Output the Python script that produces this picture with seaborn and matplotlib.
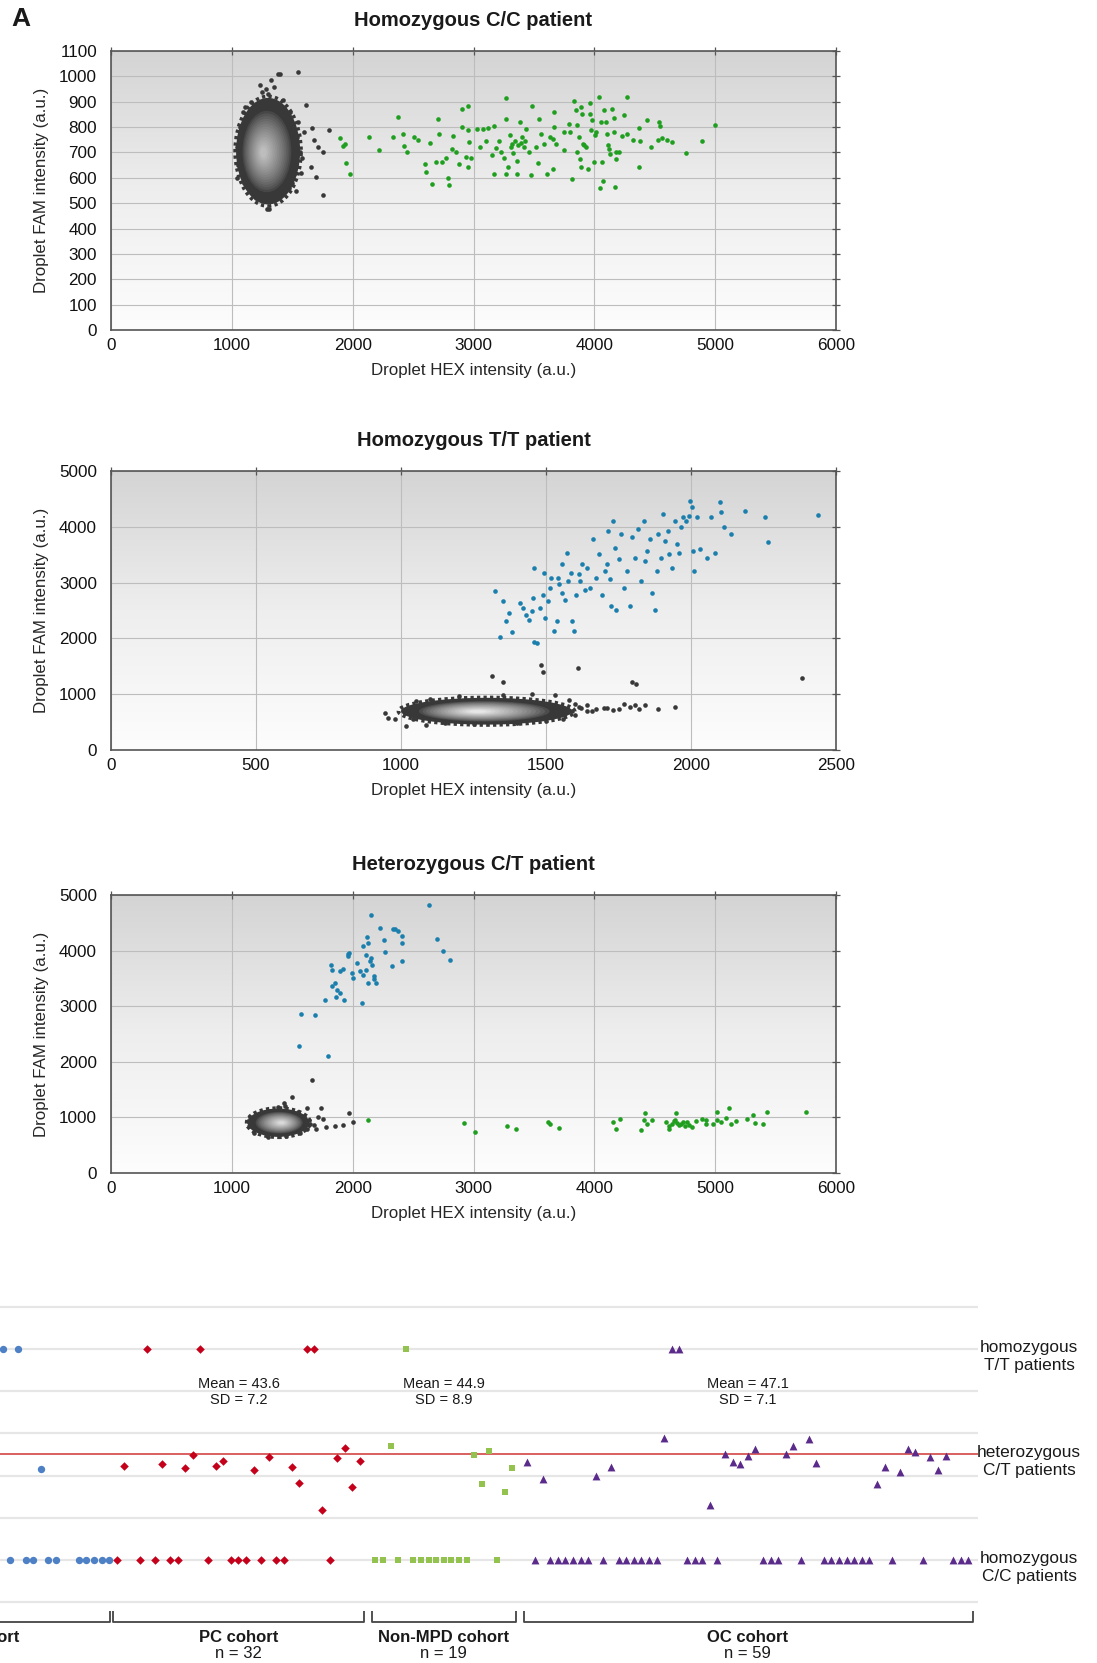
import numpy as np
import pandas as pd
import matplotlib
matplotlib.use("Agg")
import matplotlib.pyplot as plt
import matplotlib.transforms as mtransforms
from matplotlib.patches import Ellipse
from matplotlib.colors import LinearSegmentedColormap
import seaborn as sns

# ===================== DATA =====================
# --- Panel A1: homozygous C/C patient (HEX, FAM) ---
cc_hex_pos = np.array([
    (1895,757),(1919,724),(1933,733),(1948,658),(1977,617),(2137,760),(2218,709),(2331,760),(2378,841),
    (2419,773),(2427,727),(2448,703),(2506,762),(2544,749),(2637,736),(2602,654),(2610,621),(2654,577),
    (2703,830),(2712,773),(2689,664),(2741,662),(2770,680),(2791,601),(2797,571),(2820,713),(2834,766),
    (2855,703),(2878,654),(2901,872),(2907,799),(2951,885),(2936,683),(2951,643),(2965,740),(2957,789),
    (2980,680),(3029,793),(3081,793),(3116,798),(3168,805),(3168,614),(3183,717),(3212,746),(3270,915),
    (3270,830),(3256,680),(3285,643),(3270,614),(3314,720),(3328,696),(3357,667),(3357,614),(3387,819),
    (3392,736),(3416,720),(3438,793),(3459,700),(3474,610),(3488,885),(3517,720),(3532,658),(3546,832),
    (3561,773),(3584,733),(3605,614),(3633,760),(3320,735),(3345,745),(3372,730),(3400,760),(3430,745),
    (3300,770),(3230,700),(3150,690),(3100,745),(3050,720),
    (3664,860),(3656,754),(3669,800),(3683,734),(3656,635),(3747,710),(3752,780),(3793,811),(3801,780),
    (3812,595),(3835,902),(3848,866),(3856,807),(3856,701),(3876,760),(3890,880),(3895,853),(3884,675),
    (3890,641),(3903,734),(3917,731),(3931,721),(3950,635),(3962,896),(3964,853),(3975,787),(3983,827),
    (4000,661),(4005,767),(4014,780),(4036,919),(4055,820),(4061,661),(4050,558),(4074,589),(4077,866),
    (4096,820),(4104,771),(4116,731),(4124,714),(4132,694),(4143,873),(4165,836),(4165,780),(4171,565),
    (4179,675),(4179,700),(4207,700),(4226,763),(4242,847),(4267,917),(4270,774),(4317,750),(4372,641),
    (4372,796),(4380,747),(4435,827),(4468,721),(4537,820),(4545,803),(4529,750),(4564,758),(4600,750),
    (4639,743),(4758,697),(4895,745),(4997,807)])
cc_neg_outliers = np.array([
    (1549,1016),(1613,887),(1666,798),(1802,789),(1680,749),(1715,720),(1753,700),(1753,531),(1700,605),
    (1657,641),(1584,680),(1532,548),(1381,1011),(1400,1011),(1323,984),(1235,964),(1280,950),(1250,940),
    (1110,880),(1090,860),(1070,800),(1290,478),(1310,478),(1200,520),(1400,540),(1470,560),(1520,620),
    (1560,700),(1600,780),(1545,820),(1050,650),(1045,720),(1100,580),(1350,960),(1300,930),(1420,905),
    (1480,860),(1540,760),(1575,620),(1160,900),(1040,600),(1500,580)])
cc_cluster_center = [1300, 705]
cc_cluster_size = [530, 420]
cc_cluster_core = [1262, 700]

# --- Panel A2: homozygous T/T patient ---
tt_fam_pos = np.array([
    (1343,2022),(1324,2846),(1353,2665),(1372,2455),(1363,2305),(1382,2112),(1411,2635),(1420,2545),
    (1430,2425),(1440,2335),(1450,2485),(1455,2726),(1459,3267),(1459,1943),(1469,1913),(1479,2545),
    (1488,2786),(1494,3177),(1498,2365),(1508,2665),(1514,2906),(1518,3087),(1527,2124),(1537,2305),
    (1543,3087),(1546,2978),(1556,3327),(1556,2816),(1566,2696),(1572,3538),(1576,3026),(1585,3177),
    (1591,2305),(1595,2124),(1605,2786),(1614,3147),(1618,3026),(1624,3327),(1634,2876),(1643,3267),
    (1653,2906),(1663,3779),(1673,3087),(1682,3508),(1692,2786),(1702,3207),(1711,3327),(1714,3929),
    (1720,3057),(1725,2575),(1731,4110),(1737,3628),(1741,2515),(1750,3418),(1759,3869),(1769,2906),
    (1779,3207),(1789,2575),(1798,3809),(1808,3448),(1818,3959),(1828,3026),(1837,4110),(1843,3388),
    (1847,3568),(1857,3779),(1866,2816),(1876,2515),(1882,3207),(1886,3869),(1895,3448),(1905,4230),
    (1911,3749),(1921,3929),(1924,3508),(1934,3267),(1944,4110),(1953,3689),(1959,3538),(1967,3989),
    (1973,4170),(1983,4110),(1992,4200),(1998,4471),(2002,4350),(2006,3568),(2012,3207),(2021,4170),
    (2031,3598),(2056,3448),(2070,4170),(2083,3538),(2099,4441),(2103,4260),(2114,3989),(2138,3869),
    (2186,4290),(2254,4170),(2264,3731),(2438,4212)])
tt_neg_outliers = np.array([
    (1483,1522),(1488,1402),(1611,1474),(1314,1330),(1353,1221),(1798,1221),(1812,1191),(2384,1294),
    (1614,770),(1643,800),(1673,740),(1711,752),(1750,740),(1769,830),(1789,770),(1808,800),(1886,740),
    (1944,770),(946,668),(955,572),(979,560),(1018,427),(1085,451),(1590,700),(1600,820),(1640,690),
    (1580,900),(1530,980),(1450,1000),(1350,980),(1200,960),(1100,920),(1050,880),(1040,560),(1150,480),
    (1250,470),(1400,480),(1500,520),(1560,560),(1700,760),(1730,720),(1840,800),(1820,730),(1600,620),
    (1620,760),(1660,700)])
tt_cluster_center = [1295, 695]
tt_cluster_size = [590, 480]
tt_cluster_core = [1265, 690]

# --- Panel A3: heterozygous C/T patient ---
ct_fam_pos = np.array([
    (2628,4820),(2153,4639),(2121,4248),(2130,4140),(2084,4080),(2107,3929),(2144,3809),(2153,3869),
    (2163,3749),(2060,3628),(2084,3568),(2107,3658),(2130,3418),(2177,3490),(2177,3538),(2191,3418),
    (2223,4398),(2260,4182),(2270,3977),(2330,4380),(2353,4380),(2377,4350),(2409,4260),(2409,4140),
    (2409,3809),(2326,3719),(2074,3057),(1967,3959),(1958,3899),(1991,3598),(2005,3508),(2037,3779),
    (1898,3628),(1921,3670),(1874,3297),(1898,3237),(1930,3117),(1865,3165),(1828,3358),(1851,3418),
    (1819,3749),(1828,3658),(1772,3117),(1688,2846),(1572,2864),(1558,2292),(1795,2106),(2702,4200),
    (2749,3989),(2805,3839),(1958,3947)])
ct_hex_pos = np.array([
    (2925,902),(3014,740),(3279,842),(3353,800),(3618,920),(3632,878),(3711,818),(4153,920),(4177,800),
    (4214,980),(4386,770),(4409,950),(4423,1071),(4432,890),(4479,950),(4595,920),(4618,842),(4642,878),
    (4665,950),(4679,1071),(4688,902),(4702,860),(4721,890),(4735,920),(4749,842),(4781,860),(4805,830),
    (4842,938),(4888,980),(4921,950),(4981,878),(5014,950),(5014,1101),(5046,920),(5093,998),(5116,1161),
    (5130,890),(5176,938),(5260,980),(5316,1040),(5330,902),(5395,890),(5432,1089),(5749,1089),(4618,800),
    (4656,938),(4767,920),(4926,890),(2130,962)])
ct_neg_outliers = np.array([
    (1665,1673),(1502,1360),(1619,1161),(1735,1161),(1781,830),(1851,842),(1921,860),(1967,1083),
    (2005,920),(1712,1011),(1758,980),(1433,1251),(1440,1200),(1380,1180),(1550,1100),(1640,950),
    (1680,860),(1700,800),(1150,1000),(1140,850),(1180,720),(1300,650),(1450,660),(1560,720),(1600,1020),
    (1650,880),(1620,800),(1130,930)])
ct_cluster_center = [1385, 905]
ct_cluster_size = [510, 510]
ct_cluster_core = [1410, 905]

panel_titles = ["Homozygous C/C patient", "Homozygous T/T patient", "Heterozygous C/T patient"]
x_label = "Droplet HEX intensity (a.u.)"
y_label = "Droplet FAM intensity (a.u.)"

# --- Panel B: % T allele per patient, in sample order (NaN = empty slot) ---
cohort_names = ["MPD cohort", "PC cohort", "Non-MPD cohort", "OC cohort"]
cohort_n = [None, 32, 19, 59]
mpd_visible_values = [100, 0, 100, 0, 0, 42.9, 0, 0, np.nan, np.nan, 0, 0, 0, 0, 0]
pc_values = [0, 44.6, np.nan, 0, 100, 0, 45.4, 0, 0, 43.7, 49.8, 100, 0, 44.6, 47.0, 0, 0, 0, 42.6, 0,
             48.9, 0, 0, 44.0, 36.7, 100, 100, 23.7, 0, 48.5, 52.9, 34.6, 46.9]
nonmpd_values = [0, 0, 54.0, 0, 100, 0, 0, 0, 0, 0, 0, 0, 0, 49.8, 36.0, 51.8, 0, 32.1, 43.8]
oc_values = [46.6, 0, 38.4, 0, 0, 0, 0, 0, 0, 39.8, 0, 43.9, 0, 0, 0, 0, 0, 0, 58.0, 100, 100, 0, 0, 0,
             26.1, 0, 50.2, 46.3, 45.3, 49.4, 52.6, 0, 0, 0, 50.1, 54.0, 0, 57.2, 45.8, 0, 0, 0, 0, 0, 0, 0,
             36.2, 43.9, 0, 41.9, 52.4, 51.3, 0, 49.0, 42.7, 49.3, 0, 0, 0]
mean_labels = [43.6, 44.9, 47.1]
sd_labels = [7.2, 8.9, 7.1]
row_labels = ["homozygous\nT/T patients", "heterozygous\nC/T patients", "homozygous\nC/C patients"]
row_values = [100, 50, 0]

# ===================== STYLE =====================
sns.set_theme(style="white")
plt.rcParams["font.family"] = ["Liberation Sans", "DejaVu Sans"]
plt.rcParams["text.color"] = "#1a1a1a"

W, H = 1097, 1663
fig = plt.figure(figsize=(W / 100, H / 100), dpi=100)
fig.patch.set_facecolor("white")


def px_axes(left, top, right, bottom):
    return fig.add_axes([left / W, 1 - bottom / H, (right - left) / W, (bottom - top) / H])


bg_cmap = LinearSegmentedColormap.from_list("bg", ["#fdfdfd", "#eeeeee", "#d4d4d4"])
GREEN = "#1f9e1f"
BLUE = "#1b7fae"
GRAYPT = "#383838"


def draw_cluster(ax, center, size, core, core_gray, n=20):
    # dotted dark rim mimicking the ragged edge of the droplet cloud
    ax.add_patch(Ellipse(center, size[0] * 1.03, size[1] * 1.03, facecolor="none",
                         edgecolor=GRAYPT, lw=2.6, linestyle=(0, (0.9, 0.9)), zorder=2))
    for i in range(n):
        t = i / (n - 1)
        k = 1 - 0.9 * t
        u = max(0.0, (t - 0.22) / 0.78)
        g = 0.22 + (core_gray - 0.22) * u ** 0.75
        cx = center[0] + (core[0] - center[0]) * t
        cy = center[1] + (core[1] - center[1]) * t
        ax.add_patch(Ellipse((cx, cy), size[0] * k, size[1] * k, facecolor=(g, g, g),
                             edgecolor="none", zorder=2))


def droplet_panel(ax, title, xmax, xstep, ymax, ystep):
    ax.imshow(np.linspace(0, 1, 256).reshape(-1, 1), cmap=bg_cmap, origin="lower",
              extent=[0, xmax, 0, ymax], aspect="auto", zorder=0)
    ax.set_xlim(0, xmax)
    ax.set_ylim(0, ymax)
    ax.set_xticks(np.arange(0, xmax + 1, xstep))
    ax.set_yticks(np.arange(0, ymax + 1, ystep))
    ax.set_axisbelow(True)
    ax.grid(True, color="#bdbdbd", lw=0.8)
    for s in ax.spines.values():
        s.set_color("#555555")
        s.set_linewidth(1.2)
        s.set_visible(True)
    ax.tick_params(axis="both", direction="inout", length=6, width=0.9, color="#555555",
                   labelsize=12.3, labelcolor="#111111", top=True, right=True,
                   labeltop=False, labelright=False)
    ax.tick_params(axis="x", pad=3)
    ax.tick_params(axis="y", pad=7)
    ax.set_xlabel(x_label, fontsize=12.2)
    ax.set_ylabel(y_label, fontsize=12.2)
    h = ax.get_position().height * H
    ax.xaxis.set_label_coords(0.5, -33 / h)
    ax.yaxis.set_label_coords(-0.086, 0.5)
    ax.text(0.5, 1 + 31 / h, title, transform=ax.transAxes, ha="center", va="center",
            fontsize=14.5, fontweight="bold")


def pts(ax, arr, color):
    sns.scatterplot(x=arr[:, 0], y=arr[:, 1], ax=ax, color=color, s=11, linewidth=0,
                    legend=False, zorder=3)


ax1 = px_axes(111, 51, 836, 330)
droplet_panel(ax1, panel_titles[0], 6000, 1000, 1100, 100)
draw_cluster(ax1, cc_cluster_center, cc_cluster_size, cc_cluster_core, 0.74)
pts(ax1, cc_neg_outliers, GRAYPT)
pts(ax1, cc_hex_pos, GREEN)

ax2 = px_axes(111, 471, 836, 750)
droplet_panel(ax2, panel_titles[1], 2500, 500, 5000, 1000)
draw_cluster(ax2, tt_cluster_center, tt_cluster_size, tt_cluster_core, 0.9)
pts(ax2, tt_neg_outliers, GRAYPT)
pts(ax2, tt_fam_pos, BLUE)

ax3 = px_axes(111, 895, 836, 1173)
droplet_panel(ax3, panel_titles[2], 6000, 1000, 5000, 1000)
draw_cluster(ax3, ct_cluster_center, ct_cluster_size, ct_cluster_core, 0.85)
pts(ax3, ct_neg_outliers, GRAYPT)
pts(ax3, ct_fam_pos, BLUE)
pts(ax3, ct_hex_pos, GREEN)

fig.text(11 / W, 1 - 19 / H, "A", fontsize=19, fontweight="bold", ha="left", va="center")

# ===================== PANEL B =====================
slot_px = 7.603          # pixel width of one sample slot
first_pc_px = 124.4      # pixel position of PC slot 0
right_px = 978
axb = px_axes(0, 1300, right_px, 1663)
axb.set_xlim(-first_pc_px / slot_px, (right_px - first_pc_px) / slot_px)
axb.set_ylim(-48.8, 123.2)
axb.set_axis_off()

for v in range(-20, 121, 20):
    axb.axhline(v, color="#e6e6e6", lw=1.6, zorder=0)
axb.axhline(50, color="#cf3434", lw=1.1, zorder=1)

cohort_values = [pc_values, nonmpd_values, oc_values]
rows = []
starts = []
pos = -1
for name, vals in zip(cohort_names[1:], cohort_values):
    starts.append(pos)
    for i, v in enumerate(vals):
        rows.append((name, pos + i, v))
    pos += len(vals) + 1
for i, v in enumerate(mpd_visible_values):
    rows.append((cohort_names[0], -2 - (len(mpd_visible_values) - 1 - i), v))
df = pd.DataFrame(rows, columns=["cohort", "slot", "pct"]).dropna()

palette = {"MPD cohort": "#4d80c4", "PC cohort": "#c4001a",
           "Non-MPD cohort": "#93c24f", "OC cohort": "#5b2b8c"}
markers = {"MPD cohort": "o", "PC cohort": "D", "Non-MPD cohort": "s", "OC cohort": "^"}
sizes = {"MPD cohort": 28, "PC cohort": 19, "Non-MPD cohort": 17, "OC cohort": 32}
for name in cohort_names:
    sub = df[df["cohort"] == name]
    sns.scatterplot(data=sub, x="slot", y="pct", ax=axb, color=palette[name],
                    marker=markers[name], s=sizes[name], linewidth=0, legend=False, zorder=3)

bracket_y, tick_h = -29.5, 5.5
br_kw = dict(color="#444444", lw=1.3, solid_capstyle="butt", zorder=2)
# MPD bracket (only its right end lies inside the figure)
mpd_end = -1.85
axb.plot([axb.get_xlim()[0] - 2, mpd_end, mpd_end], [bracket_y, bracket_y, bracket_y + tick_h], **br_kw)
axb.text(-20, -36.5, cohort_names[0], ha="center", va="center", fontsize=12, fontweight="bold")

for k, (name, vals) in enumerate(zip(cohort_names[1:], cohort_values)):
    a = starts[k] - 0.45
    b = starts[k] + len(vals) - 1 + 0.55
    axb.plot([a, a, b, b], [bracket_y + tick_h, bracket_y, bracket_y, bracket_y + tick_h], **br_kw)
    c = (starts[k] + starts[k] + len(vals) - 1) / 2
    axb.text(c, -36.5, name, ha="center", va="center", fontsize=12, fontweight="bold")
    axb.text(c, -44.2, f"n = {cohort_n[k + 1]}", ha="center", va="center", fontsize=12)
    axb.text(c, 83.4, f"Mean = {mean_labels[k]}", ha="center", va="center", fontsize=10.5)
    axb.text(c, 75.6, f"SD = {sd_labels[k]}", ha="center", va="center", fontsize=10.5)

lab_tr = mtransforms.blended_transform_factory(axb.transAxes, axb.transData)
for lab, v in zip(row_labels, row_values):
    axb.text(1029 / right_px, v - 3.5, lab, transform=lab_tr, ha="center", va="center",
             fontsize=12.4, linespacing=1.25)

fig.savefig("out.png", dpi=100, facecolor="white")
